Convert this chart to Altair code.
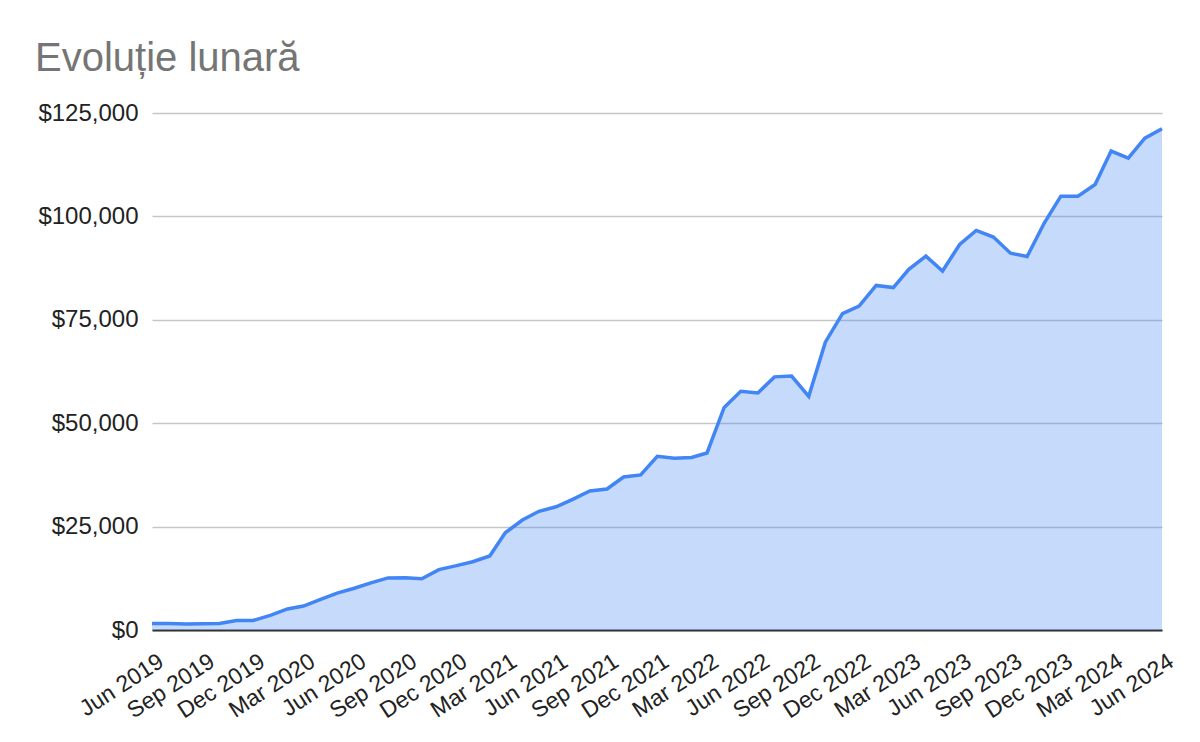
import altair as alt
import pandas as pd

# Monthly dates Jun 2019 .. Jun 2024 (61 months)
months = [f"{2019 + (5 + i) // 12}-{(5 + i) % 12 + 1:02d}-01T00:00:00" for i in range(61)]

values = [
    1600, 1600, 1450, 1500, 1600, 2300, 2300, 3550, 5100, 5800,
    7400, 8900, 10100, 11400, 12600, 12650, 12400, 14600, 15500, 16500,
    17900, 23500, 26600, 28700, 29800, 31600, 33600, 34100, 37000, 37500,
    42000, 41500, 41700, 42800, 53800, 57700, 57300, 61200, 61400, 56500,
    69600, 76500, 78300, 83300, 82800, 87200, 90400, 86800, 93200, 96600,
    95000, 91100, 90300, 98400, 104900, 104900, 107700, 115800, 114100, 118900,
    121200,
]

tick_months = [(2019 + (5 + 3 * k) // 12, (5 + 3 * k) % 12 + 1) for k in range(21)]
y_ticks = [0, 25000, 50000, 75000, 100000, 125000]

df = pd.DataFrame({"month": months, "value": values})

FONT = "Liberation Sans"
BLUE = "#4285F4"

x_enc = alt.X(
    "month:T",
    title=None,
    scale=alt.Scale(
        domain=[alt.DateTime(year=2019, month=6, date=1), alt.DateTime(year=2024, month=6, date=1)],
        nice=False,
    ),
    axis=alt.Axis(
        values=[alt.DateTime(year=y, month=m, date=1) for (y, m) in tick_months],
        format="%b %Y",
        labelAngle=-33,
        labelAlign="right",
        labelBaseline="middle",
        labelPadding=29,
        labelOffset=9,
        labelFont=FONT,
        labelFontSize=23,
        labelColor="#222222",
        labelOverlap=False,
        labelFlush=False,
        ticks=False,
        tickSize=0,
        grid=False,
        domainColor="#333333",
        domainWidth=2,
    ),
)

y_enc = alt.Y(
    "value:Q",
    title=None,
    scale=alt.Scale(domain=[0, 125000], nice=False),
    axis=alt.Axis(
        values=y_ticks,
        format="$,.0f",
        labelFont=FONT,
        labelFontSize=24,
        labelColor="#222222",
        labelPadding=14,
        domain=False,
        ticks=False,
        grid=True,
        gridColor="#c6c6c6",
        gridWidth=1.3,
    ),
)

base = alt.Chart(df).encode(x=x_enc, y=y_enc)
area = base.mark_area(color=BLUE, fillOpacity=0.3)
line = base.mark_line(color=BLUE, strokeWidth=3.5)

chart = (
    alt.layer(area, line)
    .properties(
        width=1010,
        height=517,
        autosize=alt.AutoSizeParams(type="none"),
        padding={"left": 144, "top": 105, "right": 30, "bottom": 100},
        title=alt.TitleParams(
            "Evoluție lunară",
            anchor="start",
            frame="group",
            font=FONT,
            fontSize=40,
            fontWeight="normal",
            color="#757575",
            dx=-117,
            dy=-18,
        ),
    )
    .configure_view(stroke=None)
)

chart.save("out.html", embed_options={"renderer": "svg", "actions": False})
